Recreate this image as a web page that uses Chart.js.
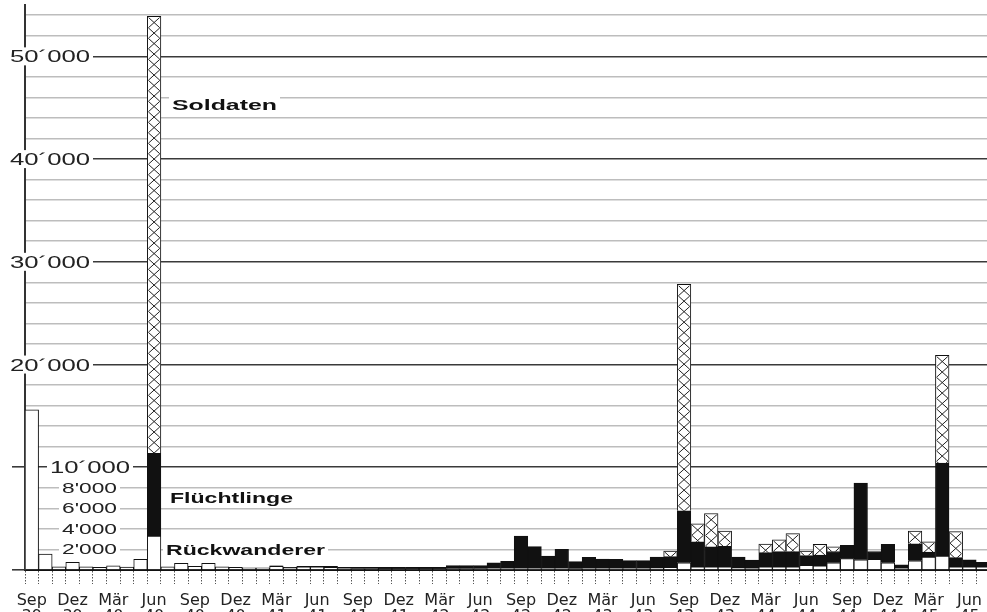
<!DOCTYPE html>
<html lang="de">
<head>
<meta charset="utf-8">
<title>Flüchtlinge in der Schweiz 1939–1945</title>
<script src="https://cdn.jsdelivr.net/npm/chart.js@4.4.1/dist/chart.umd.min.js"></script>
<style>
  html, body { margin: 0; padding: 0; background: #fff; overflow: hidden; }
  #wrap { position: absolute; left: 0; top: 0; width: 992px; height: 640px; }
</style>
</head>
<body>
<div id="wrap"><canvas id="fluchtChart"></canvas></div>
<script>
/* ============================
   DATA (monthly, Sep 39 - Jul 45)
============================ */
const months = [
  "Sep 39", "Okt 39", "Nov 39", "Dez 39",
  "Jan 40", "Feb 40", "Mär 40", "Apr 40", "Mai 40", "Jun 40", "Jul 40", "Aug 40", "Sep 40", "Okt 40", "Nov 40", "Dez 40",
  "Jan 41", "Feb 41", "Mär 41", "Apr 41", "Mai 41", "Jun 41", "Jul 41", "Aug 41", "Sep 41", "Okt 41", "Nov 41", "Dez 41",
  "Jan 42", "Feb 42", "Mär 42", "Apr 42", "Mai 42", "Jun 42", "Jul 42", "Aug 42", "Sep 42", "Okt 42", "Nov 42", "Dez 42",
  "Jan 43", "Feb 43", "Mär 43", "Apr 43", "Mai 43", "Jun 43", "Jul 43", "Aug 43", "Sep 43", "Okt 43", "Nov 43", "Dez 43",
  "Jan 44", "Feb 44", "Mär 44", "Apr 44", "Mai 44", "Jun 44", "Jul 44", "Aug 44", "Sep 44", "Okt 44", "Nov 44", "Dez 44",
  "Jan 45", "Feb 45", "Mär 45", "Apr 45", "Mai 45", "Jun 45", "Jul 45",
];

const rueckwanderer = [
  15600, 1550, 300, 750, 300, 250, 400, 280, 1050, 3300,
  300, 650, 350, 650, 300, 250, 200, 200, 350, 200,
  300, 300, 250, 150, 120, 120, 100, 100, 100, 100,
  100, 120, 120, 120, 150, 150, 150, 150, 150, 150,
  120, 150, 150, 150, 150, 150, 200, 250, 700, 300,
  300, 300, 200, 150, 300, 300, 300, 450, 400, 700,
  1100, 1000, 1050, 700, 150, 900, 1250, 1350, 300, 300,
  300,
];

const fluechtlinge = [
  0, 0, 0, 0, 0, 0, 0, 0, 0, 8050,
  0, 0, 0, 0, 0, 0, 0, 0, 50, 50,
  50, 50, 100, 100, 150, 150, 150, 150, 150, 150,
  150, 300, 300, 300, 550, 700, 3150, 2120, 1210, 1860,
  690, 1080, 920, 890, 760, 760, 1050, 1050, 5070, 2450,
  1950, 2000, 1050, 820, 1390, 1490, 1490, 950, 1060, 1100,
  1300, 7450, 750, 1800, 350, 1650, 500, 9050, 900, 700,
  450,
];

const soldaten = [
  0, 0, 0, 0, 0, 0, 0, 0, 0, 42550,
  0, 0, 0, 0, 0, 0, 0, 0, 0, 0,
  0, 0, 0, 0, 0, 0, 0, 0, 0, 0,
  0, 0, 0, 0, 0, 0, 0, 0, 0, 0,
  0, 0, 0, 0, 0, 0, 0, 550, 22030, 1750,
  3250, 1500, 0, 0, 840, 1150, 1750, 450, 1050, 450,
  0, 0, 0, 0, 0, 1250, 1000, 10500, 2530, 0,
  0,
];

const yTickValues = [2000, 4000, 6000, 8000, 10000, 20000, 30000, 40000, 50000];
const yTickLabels = ["2'000", "4'000", "6'000", "8'000", "10´000", "20´000", "30´000", "40´000", "50´000"];

const Y_MAX = 55000;
const GRID_STEP = 2000;

/* ============================
   TEXT HELPERS
============================ */
function drawStretched(ctx, text, x, baseline, width, font, color) {
  ctx.save();
  ctx.font = font;
  const w = ctx.measureText(text).width;
  ctx.translate(x, baseline);
  ctx.scale(width / w, 1);
  ctx.fillStyle = color;
  ctx.textBaseline = "alphabetic";
  ctx.textAlign = "left";
  ctx.fillText(text, 0, 0);
  ctx.restore();
}

// where the series names sit (dataset order)
const nameBoxes = [
  { x: 166, baseline: 555, width: 159, top: 542, bottom: 559 },
  { x: 170, baseline: 503, width: 123, top: 489, bottom: 507 },
  { x: 172, baseline: 110, width: 105, top: 95, bottom: 114 },
];

/* ============================
   PLUGINS
============================ */
// cross hatching on the Soldaten segments
const hatchPlugin = {
  id: "hatch",
  afterDatasetsDraw(chart) {
    const ctx = chart.ctx;
    const meta = chart.getDatasetMeta(2);
    const cell = 10.5;
    ctx.save();
    ctx.strokeStyle = "#222";
    ctx.lineWidth = 1;
    meta.data.forEach((bar) => {
      const { x, y, base, width } = bar.getProps(["x", "y", "base", "width"], true);
      const top = Math.min(y, base) + 1;
      const bottom = Math.max(y, base);
      if (bottom - top < 1) return;
      const left = x - width / 2 + 1;
      const right = x + width / 2 - 1;
      ctx.save();
      ctx.beginPath();
      ctx.rect(left, top, right - left, bottom - top);
      ctx.clip();
      ctx.beginPath();
      for (let yy = top; yy < bottom; yy += cell) {
        ctx.moveTo(left, yy);
        ctx.lineTo(right, yy + cell);
        ctx.moveTo(right, yy);
        ctx.lineTo(left, yy + cell);
      }
      ctx.stroke();
      ctx.restore();
    });
    ctx.restore();
  },
};

// y tick labels + series names, drawn over the grid with a white backdrop
const labelPlugin = {
  id: "labels",
  afterDraw(chart) {
    const ctx = chart.ctx;
    const yScale = chart.scales.y;

    yTickValues.forEach((v, i) => {
      const big = v >= 10000;
      const y = yScale.getPixelForValue(v);
      const x = big ? (v === 10000 ? 50 : 10) : 62;
      const w = big ? 80 : 55;
      const h = big ? 9 : 8;
      ctx.fillStyle = "#fff";
      ctx.fillRect(x - 3, y - h, w + 6, h * 2);
      drawStretched(
        ctx, yTickLabels[i], x, y + (big ? 6 : 5), w,
        big ? "16px 'Liberation Sans'" : "14px 'Liberation Sans'", "#222"
      );
    });

    chart.data.datasets.forEach((ds, i) => {
      const b = nameBoxes[i];
      ctx.fillStyle = "#fff";
      ctx.fillRect(b.x - 3, b.top, b.width + 6, b.bottom - b.top);
      drawStretched(ctx, ds.label, b.x, b.baseline, b.width, "bold 14px 'Liberation Sans'", "#111");
    });
  },
};

/* ============================
   CHART
============================ */
const ctx = document.getElementById("fluchtChart").getContext("2d");

new Chart(ctx, {
  type: "bar",
  data: {
    labels: months,
    datasets: [
      { label: "Rückwanderer", data: rueckwanderer, backgroundColor: "#fff" },
      { label: "Flüchtlinge", data: fluechtlinge, backgroundColor: "#111" },
      { label: "Soldaten", data: soldaten, backgroundColor: "#fff" },
    ],
  },
  options: {
    responsive: true,
    maintainAspectRatio: false,
    animation: false,
    layout: { padding: { top: 5, left: 0, right: 0, bottom: 0 } },
    datasets: {
      bar: {
        categoryPercentage: 1,
        barPercentage: 1,
        borderColor: "#111",
        borderWidth: 1,
      },
    },
    plugins: {
      legend: { display: false },
      tooltip: { enabled: false },
    },
    scales: {
      x: {
        stacked: true,
        grid: {
          display: true,
          drawOnChartArea: false,
          drawTicks: true,
          tickLength: 14,
          tickColor: "#555",
          tickWidth: 1,
          tickBorderDash: [1.5, 1.5],
        },
        border: { display: true, color: "#111", width: 2, dash: [2, 1] },
        ticks: {
          autoSkip: false,
          maxRotation: 0,
          minRotation: 0,
          padding: 9,
          color: "#222",
          font: { family: "'DejaVu Sans'", size: 16, lineHeight: 1.0 },
          callback: (val, i) => (i % 3 === 0 ? months[i].split(" ") : ""),
        },
        afterFit: (scale) => {
          scale.height = 70;
        },
      },
      y: {
        stacked: true,
        min: 0,
        max: Y_MAX,
        ticks: { display: false },
        // one grid line every 2'000, up to the top of the axis
        afterBuildTicks: (scale) => {
          const t = [];
          for (let v = 0; v < Y_MAX; v += GRID_STEP) t.push({ value: v });
          scale.ticks = t;
        },
        grid: {
          lineWidth: 1.6,
          tickLength: 13,
          color: (c) => {
            const v = c.tick ? c.tick.value : 0;
            return v % 10000 === 0 ? "#3a3a3a" : "#bdbdbd";
          },
          tickColor: (c) => {
            const v = c.tick ? c.tick.value : 0;
            return v % 10000 === 0 ? "#3a3a3a" : "rgba(0,0,0,0)";
          },
        },
        border: { color: "#333", width: 2 },
        afterFit: (scale) => {
          scale.width = 25;
        },
      },
    },
  },
  plugins: [hatchPlugin, labelPlugin],
});
</script>
</body>
</html>
